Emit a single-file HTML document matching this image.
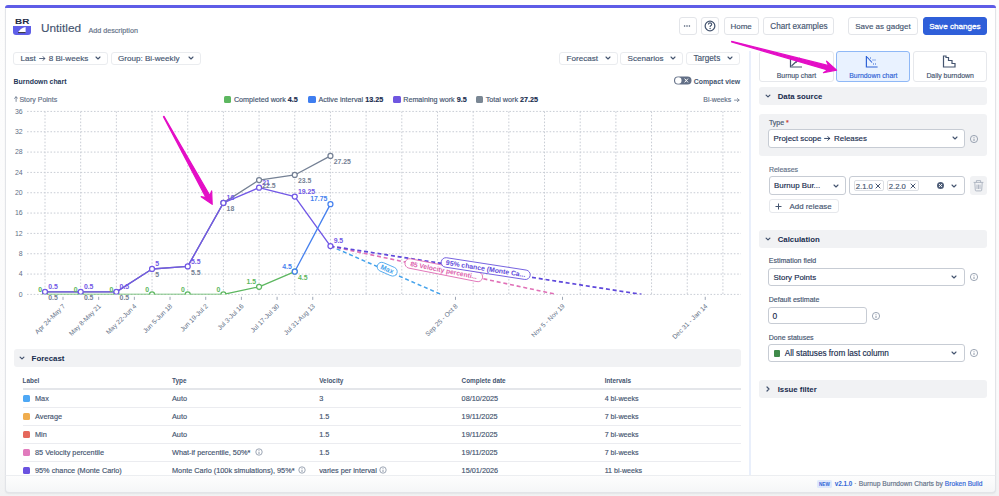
<!DOCTYPE html><html><head><meta charset="utf-8"><title>Burndown</title><style>
*{box-sizing:border-box;margin:0;padding:0}
html,body{width:999px;height:496px;overflow:hidden;background:linear-gradient(#fdfdfd 0%,#fafafb 85%,#f1f2f3 100%);font-family:"Liberation Sans",sans-serif}
.t{position:absolute;white-space:nowrap;font-family:"Liberation Sans",sans-serif}
.t.r{-webkit-text-stroke:0.15px currentColor}
.b{position:absolute}
.i{position:absolute;overflow:visible}
.btn{position:absolute;border:1px solid #eaecef;border-radius:3px;background:#fff}
</style></head><body>
<div class="b" style="left:5.00px;top:5.00px;width:991.00px;height:488.00px;background:#fff;border:1px solid #e2e4e8;border-top:none;border-radius:5px 5px 4px 4px;box-shadow:0 1px 2px rgba(0,0,0,0.06)"></div>
<div class="b" style="left:5.00px;top:5.00px;width:991.00px;height:3.00px;background:#5d5be6;border-radius:4px 4px 0 0"></div>
<div class="b" style="left:13.40px;top:17.50px;width:17.90px;height:17.50px;background:#fff;border-radius:3px"></div>
<div class="b" style="left:13.40px;top:25.50px;width:17.90px;height:9.30px;background:#5f5fe8;border-radius:0 0 3px 3px"></div>
<div class="t" style="left:14.60px;top:19.00px;font-size:6.4px;line-height:6.4px;color:#1d2a44;font-weight:900;transform:scaleX(1.55);transform-origin:0 0;letter-spacing:0.1px">BR</div>
<svg class="i" style="left:13px;top:25px" width="19" height="10" viewBox="13 25 19 10"><path d="M18 32.6 Q20 28.2 25.6 26.9 L25.6 32.6 Z" fill="#fff"/><path d="M18 32.6 H25.6" stroke="#222" stroke-width="0.9"/></svg>
<div class="t r" style="left:41.00px;top:23.00px;font-size:11.8px;line-height:11.8px;color:#44546f;font-weight:400;">Untitled</div>
<div class="t r" style="left:88.40px;top:27.00px;font-size:7.2px;line-height:7.2px;color:#626f86;font-weight:400;">Add description</div>
<div class="btn" style="left:679px;top:16.5px;width:17.700000000000045px;height:18.0px;background:#fff;border-color:#e3e5e9"></div>
<svg class="i" style="left:682.4px;top:21.3px" width="10" height="10" viewBox="0 0 10 10"><circle cx="2.6" cy="5" r="0.8" fill="#44546f"/><circle cx="5" cy="5" r="0.8" fill="#44546f"/><circle cx="7.4" cy="5" r="0.8" fill="#44546f"/></svg>
<div class="btn" style="left:701.2px;top:16.5px;width:17.399999999999977px;height:18.0px;background:#fff;border-color:#e3e5e9"></div>
<svg class="i" style="left:704.1px;top:19.7px" width="12" height="12" viewBox="-6 -6 12 12"><circle r="4.85" fill="none" stroke="#44546f" stroke-width="1.25"/><path d="M-1.6 -1.4 Q-1.6 -3.1 0 -3.1 Q1.7 -3.1 1.7 -1.6 Q1.7 -0.7 0.6 -0.2 Q0.1 0.1 0.1 1" fill="none" stroke="#44546f" stroke-width="1.15"/><circle cx="0.1" cy="2.5" r="0.7" fill="#44546f"/></svg>
<div class="btn" style="left:723.7px;top:16.5px;width:34.89999999999998px;height:18.0px;background:#fff;border-color:#e3e5e9"></div>
<div class="t r" style="left:741.15px;transform:translateX(-50%);top:23.00px;font-size:8.0px;line-height:8.0px;color:#44546f;font-weight:400;">Home</div>
<div class="btn" style="left:763.3px;top:16.5px;width:71.20000000000005px;height:18.0px;background:#fff;border-color:#e3e5e9"></div>
<div class="t r" style="left:798.90px;transform:translateX(-50%);top:23.00px;font-size:8.2px;line-height:8.2px;color:#44546f;font-weight:400;">Chart examples</div>
<div class="btn" style="left:848.3px;top:16.8px;width:69.30000000000007px;height:17.999999999999996px;background:#fff;border-color:#e3e5e9"></div>
<div class="t r" style="left:882.95px;transform:translateX(-50%);top:23.00px;font-size:8.0px;line-height:8.0px;color:#44546f;font-weight:400;">Save as gadget</div>
<div class="btn" style="left:922.7px;top:16.8px;width:64.29999999999995px;height:17.999999999999996px;background:#2f5fd9;border-color:#2f5fd9"></div>
<div class="t r" style="left:954.85px;transform:translateX(-50%);top:23.00px;font-size:8.1px;line-height:8.1px;color:#fff;font-weight:400;-webkit-text-stroke:0.3px #fff">Save changes</div>
<div class="btn" style="left:13.2px;top:51.5px;width:95.1px;height:13.099999999999994px"></div>
<div class="t r" style="left:20.40px;top:55.00px;font-size:8.1px;line-height:8.1px;color:#44546f;font-weight:400;">Last <svg style="display:inline-block;vertical-align:baseline;margin:0 0.1em" width="0.85em" height="0.62em" viewBox="0 0 10 7.4"><path d="M0.8 3.7 H8.6 M5.6 0.9 L8.8 3.7 L5.6 6.5" fill="none" stroke="currentColor" stroke-width="1.3" stroke-linecap="round" stroke-linejoin="round"/></svg> 8 Bi-weeks</div>
<svg class="i" style="left:93.8px;top:54.3px" width="8" height="8" viewBox="-4 -4 8 8"><path d="M-2.0 -1.0 L0 1.0 L2.0 -1.0" fill="none" stroke="#44546f" stroke-width="1.1" stroke-linecap="round" stroke-linejoin="round"/></svg>
<div class="btn" style="left:110.7px;top:51.5px;width:90.8px;height:13.099999999999994px"></div>
<div class="t r" style="left:117.90px;top:55.00px;font-size:8.1px;line-height:8.1px;color:#44546f;font-weight:400;">Group: Bi-weekly</div>
<svg class="i" style="left:187.0px;top:54.3px" width="8" height="8" viewBox="-4 -4 8 8"><path d="M-2.0 -1.0 L0 1.0 L2.0 -1.0" fill="none" stroke="#44546f" stroke-width="1.1" stroke-linecap="round" stroke-linejoin="round"/></svg>
<div class="btn" style="left:559.4px;top:51.5px;width:59.0px;height:13.099999999999994px"></div>
<div class="t r" style="left:566.60px;top:55.00px;font-size:8.1px;line-height:8.1px;color:#44546f;font-weight:400;">Forecast</div>
<svg class="i" style="left:603.9px;top:54.3px" width="8" height="8" viewBox="-4 -4 8 8"><path d="M-2.0 -1.0 L0 1.0 L2.0 -1.0" fill="none" stroke="#44546f" stroke-width="1.1" stroke-linecap="round" stroke-linejoin="round"/></svg>
<div class="btn" style="left:620.4px;top:51.5px;width:63.0px;height:13.099999999999994px"></div>
<div class="t r" style="left:627.60px;top:55.00px;font-size:8.1px;line-height:8.1px;color:#44546f;font-weight:400;">Scenarios</div>
<svg class="i" style="left:668.9px;top:54.3px" width="8" height="8" viewBox="-4 -4 8 8"><path d="M-2.0 -1.0 L0 1.0 L2.0 -1.0" fill="none" stroke="#44546f" stroke-width="1.1" stroke-linecap="round" stroke-linejoin="round"/></svg>
<div class="btn" style="left:686.2px;top:51.5px;width:54.19999999999993px;height:13.099999999999994px"></div>
<div class="t r" style="left:693.40px;top:55.00px;font-size:8.2px;line-height:8.2px;color:#44546f;font-weight:400;">Targets</div>
<svg class="i" style="left:725.9px;top:54.3px" width="8" height="8" viewBox="-4 -4 8 8"><path d="M-2.0 -1.0 L0 1.0 L2.0 -1.0" fill="none" stroke="#44546f" stroke-width="1.1" stroke-linecap="round" stroke-linejoin="round"/></svg>
<div class="t" style="left:13.60px;top:79.00px;font-size:6.9px;line-height:6.9px;color:#253858;font-weight:700;">Burndown chart</div>
<svg class="i" style="left:673px;top:75px" width="20" height="11" viewBox="673 75 20 11"><rect x="674" y="76.5" width="17.5" height="8" rx="4" fill="#626f86"/><circle cx="678.3" cy="80.5" r="3.2" fill="#fff"/><path d="M684.6 78.6 L688 82.4 M688 78.6 L684.6 82.4" stroke="#fff" stroke-width="1"/></svg>
<div class="t" style="left:693.80px;top:79.00px;font-size:6.9px;line-height:6.9px;color:#44546f;font-weight:700;">Compact view</div>
<div class="t r" style="left:13.50px;top:96.00px;font-size:7px;line-height:7px;color:#626f86;font-weight:400;"><svg style="display:inline-block;margin-right:0.25em" width="0.6em" height="0.8em" viewBox="0 0 6 8"><path d="M3 7.8 V1.2 M0.7 3.4 L3 1.1 L5.3 3.4" fill="none" stroke="currentColor" stroke-width="1.15" stroke-linecap="round" stroke-linejoin="round"/></svg>Story Points</div>
<div class="b" style="left:223.90px;top:95.50px;width:7.60px;height:7.60px;background:#5db760;border-radius:1.5px"></div>
<div class="t r" style="left:233.90px;top:96.00px;font-size:7.2px;line-height:7.2px;color:#44546f;font-weight:400;">Completed work <b style="color:#172b4d">4.5</b></div>
<div class="b" style="left:308.40px;top:95.50px;width:7.60px;height:7.60px;background:#3f7ef0;border-radius:1.5px"></div>
<div class="t r" style="left:318.40px;top:96.00px;font-size:7.2px;line-height:7.2px;color:#44546f;font-weight:400;">Active interval <b style="color:#172b4d">13.25</b></div>
<div class="b" style="left:393.20px;top:95.50px;width:7.60px;height:7.60px;background:#6f56e0;border-radius:1.5px"></div>
<div class="t r" style="left:403.20px;top:96.00px;font-size:7.2px;line-height:7.2px;color:#44546f;font-weight:400;">Remaining work <b style="color:#172b4d">9.5</b></div>
<div class="b" style="left:475.70px;top:95.50px;width:7.60px;height:7.60px;background:#7a8794;border-radius:1.5px"></div>
<div class="t r" style="left:485.70px;top:96.00px;font-size:7.2px;line-height:7.2px;color:#44546f;font-weight:400;">Total work <b style="color:#172b4d">27.25</b></div>
<div class="t r" style="right:258.60px;top:97.00px;font-size:6.9px;line-height:6.9px;color:#626f86;font-weight:400;">Bi-weeks <svg style="display:inline-block;vertical-align:baseline;margin:0 0.1em" width="0.85em" height="0.62em" viewBox="0 0 10 7.4"><path d="M0.8 3.7 H8.6 M5.6 0.9 L8.8 3.7 L5.6 6.5" fill="none" stroke="currentColor" stroke-width="1.3" stroke-linecap="round" stroke-linejoin="round"/></svg></div>
<div class="b" style="left:749.30px;top:51.20px;width:1.50px;height:423.80px;background:#e9effb"></div>
<svg class="i" style="left:0;top:0" width="999" height="496" viewBox="0 0 999 496">
<defs><clipPath id="pc"><rect x="20" y="100" width="725" height="194.6"/></clipPath></defs>
<text x="22.6" y="113.81" font-size="6.9" fill="#626f86" text-anchor="end" font-family="Liberation Sans">36</text>
<line x1="27" y1="111.41" x2="741" y2="111.41" stroke="#c9cdd5" stroke-width="1" stroke-dasharray="1.6 1.75"/>
<text x="22.6" y="134.14" font-size="6.9" fill="#626f86" text-anchor="end" font-family="Liberation Sans">32</text>
<line x1="27" y1="131.74" x2="741" y2="131.74" stroke="#c9cdd5" stroke-width="1" stroke-dasharray="1.6 1.75"/>
<text x="22.6" y="154.48" font-size="6.9" fill="#626f86" text-anchor="end" font-family="Liberation Sans">28</text>
<line x1="27" y1="152.08" x2="741" y2="152.08" stroke="#c9cdd5" stroke-width="1" stroke-dasharray="1.6 1.75"/>
<text x="22.6" y="174.81" font-size="6.9" fill="#626f86" text-anchor="end" font-family="Liberation Sans">24</text>
<line x1="27" y1="172.41" x2="741" y2="172.41" stroke="#c9cdd5" stroke-width="1" stroke-dasharray="1.6 1.75"/>
<text x="22.6" y="195.14" font-size="6.9" fill="#626f86" text-anchor="end" font-family="Liberation Sans">20</text>
<line x1="27" y1="192.74" x2="741" y2="192.74" stroke="#c9cdd5" stroke-width="1" stroke-dasharray="1.6 1.75"/>
<text x="22.6" y="215.47" font-size="6.9" fill="#626f86" text-anchor="end" font-family="Liberation Sans">16</text>
<line x1="27" y1="213.07" x2="741" y2="213.07" stroke="#c9cdd5" stroke-width="1" stroke-dasharray="1.6 1.75"/>
<text x="22.6" y="235.80" font-size="6.9" fill="#626f86" text-anchor="end" font-family="Liberation Sans">12</text>
<line x1="27" y1="233.40" x2="741" y2="233.40" stroke="#c9cdd5" stroke-width="1" stroke-dasharray="1.6 1.75"/>
<text x="22.6" y="256.14" font-size="6.9" fill="#626f86" text-anchor="end" font-family="Liberation Sans">8</text>
<line x1="27" y1="253.74" x2="741" y2="253.74" stroke="#c9cdd5" stroke-width="1" stroke-dasharray="1.6 1.75"/>
<text x="22.6" y="276.47" font-size="6.9" fill="#626f86" text-anchor="end" font-family="Liberation Sans">4</text>
<line x1="27" y1="274.07" x2="741" y2="274.07" stroke="#c9cdd5" stroke-width="1" stroke-dasharray="1.6 1.75"/>
<text x="22.6" y="296.80" font-size="6.9" fill="#626f86" text-anchor="end" font-family="Liberation Sans">0</text>
<line x1="27" y1="294.40" x2="741" y2="294.40" stroke="#c9cdd5" stroke-width="1" stroke-dasharray="1.6 1.75"/>
<line x1="45.00" y1="111.5" x2="45.00" y2="294.4" stroke="#c9cdd5" stroke-width="1" stroke-dasharray="1.6 1.75"/>
<line x1="80.68" y1="111.5" x2="80.68" y2="294.4" stroke="#c9cdd5" stroke-width="1" stroke-dasharray="1.6 1.75"/>
<line x1="116.36" y1="111.5" x2="116.36" y2="294.4" stroke="#c9cdd5" stroke-width="1" stroke-dasharray="1.6 1.75"/>
<line x1="152.04" y1="111.5" x2="152.04" y2="294.4" stroke="#c9cdd5" stroke-width="1" stroke-dasharray="1.6 1.75"/>
<line x1="187.72" y1="111.5" x2="187.72" y2="294.4" stroke="#c9cdd5" stroke-width="1" stroke-dasharray="1.6 1.75"/>
<line x1="223.40" y1="111.5" x2="223.40" y2="294.4" stroke="#c9cdd5" stroke-width="1" stroke-dasharray="1.6 1.75"/>
<line x1="259.08" y1="111.5" x2="259.08" y2="294.4" stroke="#c9cdd5" stroke-width="1" stroke-dasharray="1.6 1.75"/>
<line x1="294.76" y1="111.5" x2="294.76" y2="294.4" stroke="#c9cdd5" stroke-width="1" stroke-dasharray="1.6 1.75"/>
<line x1="330.44" y1="111.5" x2="330.44" y2="294.4" stroke="#c9cdd5" stroke-width="1" stroke-dasharray="1.6 1.75"/>
<line x1="366.12" y1="111.5" x2="366.12" y2="294.4" stroke="#c9cdd5" stroke-width="1" stroke-dasharray="1.6 1.75"/>
<line x1="401.80" y1="111.5" x2="401.80" y2="294.4" stroke="#c9cdd5" stroke-width="1" stroke-dasharray="1.6 1.75"/>
<line x1="437.48" y1="111.5" x2="437.48" y2="294.4" stroke="#c9cdd5" stroke-width="1" stroke-dasharray="1.6 1.75"/>
<line x1="473.16" y1="111.5" x2="473.16" y2="294.4" stroke="#c9cdd5" stroke-width="1" stroke-dasharray="1.6 1.75"/>
<line x1="508.84" y1="111.5" x2="508.84" y2="294.4" stroke="#c9cdd5" stroke-width="1" stroke-dasharray="1.6 1.75"/>
<line x1="544.52" y1="111.5" x2="544.52" y2="294.4" stroke="#c9cdd5" stroke-width="1" stroke-dasharray="1.6 1.75"/>
<line x1="580.20" y1="111.5" x2="580.20" y2="294.4" stroke="#c9cdd5" stroke-width="1" stroke-dasharray="1.6 1.75"/>
<line x1="615.88" y1="111.5" x2="615.88" y2="294.4" stroke="#c9cdd5" stroke-width="1" stroke-dasharray="1.6 1.75"/>
<line x1="651.56" y1="111.5" x2="651.56" y2="294.4" stroke="#c9cdd5" stroke-width="1" stroke-dasharray="1.6 1.75"/>
<line x1="687.24" y1="111.5" x2="687.24" y2="294.4" stroke="#c9cdd5" stroke-width="1" stroke-dasharray="1.6 1.75"/>
<line x1="722.92" y1="111.5" x2="722.92" y2="294.4" stroke="#c9cdd5" stroke-width="1" stroke-dasharray="1.6 1.75"/>
<line x1="63.00" y1="296.8" x2="63.00" y2="299.9" stroke="#8590a2" stroke-width="0.8"/>
<text transform="translate(65.60,306.60) rotate(-45)" font-size="6.6" fill="#626f86" text-anchor="end" font-family="Liberation Sans">Apr 24-May 7</text>
<line x1="98.68" y1="296.8" x2="98.68" y2="299.9" stroke="#8590a2" stroke-width="0.8"/>
<text transform="translate(101.28,306.60) rotate(-45)" font-size="6.6" fill="#626f86" text-anchor="end" font-family="Liberation Sans">May 8-May 21</text>
<line x1="134.36" y1="296.8" x2="134.36" y2="299.9" stroke="#8590a2" stroke-width="0.8"/>
<text transform="translate(136.96,306.60) rotate(-45)" font-size="6.6" fill="#626f86" text-anchor="end" font-family="Liberation Sans">May 22-Jun 4</text>
<line x1="170.04" y1="296.8" x2="170.04" y2="299.9" stroke="#8590a2" stroke-width="0.8"/>
<text transform="translate(172.64,306.60) rotate(-45)" font-size="6.6" fill="#626f86" text-anchor="end" font-family="Liberation Sans">Jun 5-Jun 18</text>
<line x1="205.72" y1="296.8" x2="205.72" y2="299.9" stroke="#8590a2" stroke-width="0.8"/>
<text transform="translate(208.32,306.60) rotate(-45)" font-size="6.6" fill="#626f86" text-anchor="end" font-family="Liberation Sans">Jun 19-Jul 2</text>
<line x1="241.40" y1="296.8" x2="241.40" y2="299.9" stroke="#8590a2" stroke-width="0.8"/>
<text transform="translate(244.00,306.60) rotate(-45)" font-size="6.6" fill="#626f86" text-anchor="end" font-family="Liberation Sans">Jul 3-Jul 16</text>
<line x1="277.08" y1="296.8" x2="277.08" y2="299.9" stroke="#8590a2" stroke-width="0.8"/>
<text transform="translate(279.68,306.60) rotate(-45)" font-size="6.6" fill="#626f86" text-anchor="end" font-family="Liberation Sans">Jul 17-Jul 30</text>
<line x1="312.76" y1="296.8" x2="312.76" y2="299.9" stroke="#8590a2" stroke-width="0.8"/>
<text transform="translate(315.36,306.60) rotate(-45)" font-size="6.6" fill="#626f86" text-anchor="end" font-family="Liberation Sans">Jul 31-Aug 13</text>
<line x1="455.48" y1="296.8" x2="455.48" y2="299.9" stroke="#8590a2" stroke-width="0.8"/>
<text transform="translate(458.08,306.60) rotate(-45)" font-size="6.6" fill="#626f86" text-anchor="end" font-family="Liberation Sans">Sep 25 - Oct 8</text>
<line x1="562.52" y1="296.8" x2="562.52" y2="299.9" stroke="#8590a2" stroke-width="0.8"/>
<text transform="translate(565.12,306.60) rotate(-45)" font-size="6.6" fill="#626f86" text-anchor="end" font-family="Liberation Sans">Nov 5 - Nov 19</text>
<line x1="705.24" y1="296.8" x2="705.24" y2="299.9" stroke="#8590a2" stroke-width="0.8"/>
<text transform="translate(707.84,306.60) rotate(-45)" font-size="6.6" fill="#626f86" text-anchor="end" font-family="Liberation Sans">Dec 31 - Jan 14</text>
<g clip-path="url(#pc)">
<line x1="330.44" y1="246.11149999999998" x2="441" y2="294.4" stroke="#45a3ec" stroke-width="1.5" stroke-dasharray="4 2.8"/>
<line x1="330.44" y1="246.11149999999998" x2="556.4" y2="294.4" stroke="#e070b7" stroke-width="1.6" stroke-dasharray="4 2.8"/>
<line x1="330.44" y1="246.11149999999998" x2="641.5" y2="294.4" stroke="#5e48db" stroke-width="1.7" stroke-dasharray="4 2.8"/>
<polyline points="45.00,294.40 80.68,294.40 116.36,294.40 152.04,294.40 187.72,294.40 223.40,294.40 259.08,286.78 294.76,271.53" fill="none" stroke="#5db760" stroke-width="1.3" stroke-linejoin="round"/>
<polyline points="45.00,291.86 80.68,291.86 116.36,291.86 152.04,268.98 187.72,266.44 223.40,202.91 259.08,180.03 294.76,174.95 330.44,155.89" fill="none" stroke="#758195" stroke-width="1.3" stroke-linejoin="round"/>
<polyline points="45.00,291.86 80.68,291.86 116.36,291.86 152.04,268.98 187.72,266.44 223.40,202.91 259.08,187.66 294.76,196.55 330.44,246.11" fill="none" stroke="#7258e6" stroke-width="1.35" stroke-linejoin="round"/>
<line x1="294.76" y1="271.5265" x2="330.44" y2="204.17674999999997" stroke="#4580ee" stroke-width="1.3"/>
<circle cx="45.00" cy="294.40" r="2.5" fill="#fff" stroke="#5db760" stroke-width="1.25"/>
<circle cx="80.68" cy="294.40" r="2.5" fill="#fff" stroke="#5db760" stroke-width="1.25"/>
<circle cx="116.36" cy="294.40" r="2.5" fill="#fff" stroke="#5db760" stroke-width="1.25"/>
<circle cx="152.04" cy="294.40" r="2.5" fill="#fff" stroke="#5db760" stroke-width="1.25"/>
<circle cx="187.72" cy="294.40" r="2.5" fill="#fff" stroke="#5db760" stroke-width="1.25"/>
<circle cx="223.40" cy="294.40" r="2.5" fill="#fff" stroke="#5db760" stroke-width="1.25"/>
<circle cx="259.08" cy="286.78" r="2.5" fill="#fff" stroke="#5db760" stroke-width="1.25"/>
<circle cx="294.76" cy="271.53" r="2.5" fill="#fff" stroke="#5db760" stroke-width="1.25"/>
<circle cx="223.40" cy="202.91" r="2.5" fill="#fff" stroke="#758195" stroke-width="1.25"/>
<circle cx="259.08" cy="180.03" r="2.5" fill="#fff" stroke="#758195" stroke-width="1.25"/>
<circle cx="294.76" cy="174.95" r="2.5" fill="#fff" stroke="#758195" stroke-width="1.25"/>
<circle cx="330.44" cy="155.89" r="2.5" fill="#fff" stroke="#758195" stroke-width="1.25"/>
<circle cx="45.00" cy="291.86" r="2.5" fill="#fff" stroke="#7258e6" stroke-width="1.25"/>
<circle cx="80.68" cy="291.86" r="2.5" fill="#fff" stroke="#7258e6" stroke-width="1.25"/>
<circle cx="116.36" cy="291.86" r="2.5" fill="#fff" stroke="#7258e6" stroke-width="1.25"/>
<circle cx="152.04" cy="268.98" r="2.5" fill="#fff" stroke="#7258e6" stroke-width="1.25"/>
<circle cx="187.72" cy="266.44" r="2.5" fill="#fff" stroke="#7258e6" stroke-width="1.25"/>
<circle cx="223.40" cy="202.91" r="2.5" fill="#fff" stroke="#7258e6" stroke-width="1.25"/>
<circle cx="259.08" cy="187.66" r="2.5" fill="#fff" stroke="#7258e6" stroke-width="1.25"/>
<circle cx="294.76" cy="196.55" r="2.5" fill="#fff" stroke="#7258e6" stroke-width="1.25"/>
<circle cx="330.44" cy="246.11" r="2.5" fill="#fff" stroke="#7258e6" stroke-width="1.25"/>
<circle cx="294.76" cy="271.53" r="2.5" fill="#fff" stroke="#4580ee" stroke-width="1.25"/>
<circle cx="330.44" cy="204.18" r="2.5" fill="#fff" stroke="#4580ee" stroke-width="1.25"/>
</g>
<text x="48.20" y="289.06" font-size="6.9" fill="#7258e6" text-anchor="start" font-weight="700" font-family="Liberation Sans">0.5</text>
<text x="83.88" y="289.06" font-size="6.9" fill="#7258e6" text-anchor="start" font-weight="700" font-family="Liberation Sans">0.5</text>
<text x="119.56" y="289.06" font-size="6.9" fill="#7258e6" text-anchor="start" font-weight="700" font-family="Liberation Sans">0.5</text>
<text x="155.24" y="266.18" font-size="6.9" fill="#7258e6" text-anchor="start" font-weight="700" font-family="Liberation Sans">5</text>
<text x="190.92" y="263.64" font-size="6.9" fill="#7258e6" text-anchor="start" font-weight="700" font-family="Liberation Sans">5.5</text>
<text x="226.60" y="200.11" font-size="6.9" fill="#7258e6" text-anchor="start" font-weight="700" font-family="Liberation Sans">18</text>
<text x="262.28" y="184.86" font-size="6.9" fill="#7258e6" text-anchor="start" font-weight="700" font-family="Liberation Sans">21</text>
<text x="297.96" y="193.75" font-size="6.9" fill="#7258e6" text-anchor="start" font-weight="700" font-family="Liberation Sans">19.25</text>
<text x="333.64" y="243.31" font-size="6.9" fill="#7258e6" text-anchor="start" font-weight="700" font-family="Liberation Sans">9.5</text>
<text x="48.20" y="300.06" font-size="6.9" fill="#758195" text-anchor="start" font-weight="700" font-family="Liberation Sans">0.5</text>
<text x="83.88" y="300.06" font-size="6.9" fill="#758195" text-anchor="start" font-weight="700" font-family="Liberation Sans">0.5</text>
<text x="119.56" y="300.06" font-size="6.9" fill="#758195" text-anchor="start" font-weight="700" font-family="Liberation Sans">0.5</text>
<text x="155.24" y="277.18" font-size="6.9" fill="#758195" text-anchor="start" font-weight="700" font-family="Liberation Sans">5</text>
<text x="190.92" y="274.64" font-size="6.9" fill="#758195" text-anchor="start" font-weight="700" font-family="Liberation Sans">5.5</text>
<text x="226.60" y="211.11" font-size="6.9" fill="#758195" text-anchor="start" font-weight="700" font-family="Liberation Sans">18</text>
<text x="262.28" y="188.23" font-size="6.9" fill="#758195" text-anchor="start" font-weight="700" font-family="Liberation Sans">22.5</text>
<text x="297.96" y="183.15" font-size="6.9" fill="#758195" text-anchor="start" font-weight="700" font-family="Liberation Sans">23.5</text>
<text x="333.64" y="164.09" font-size="6.9" fill="#758195" text-anchor="start" font-weight="700" font-family="Liberation Sans">27.25</text>
<text x="42.00" y="291.60" font-size="6.9" fill="#5db760" text-anchor="end" font-weight="700" font-family="Liberation Sans">0</text>
<text x="77.68" y="291.60" font-size="6.9" fill="#5db760" text-anchor="end" font-weight="700" font-family="Liberation Sans">0</text>
<text x="113.36" y="291.60" font-size="6.9" fill="#5db760" text-anchor="end" font-weight="700" font-family="Liberation Sans">0</text>
<text x="149.04" y="291.60" font-size="6.9" fill="#5db760" text-anchor="end" font-weight="700" font-family="Liberation Sans">0</text>
<text x="184.72" y="291.60" font-size="6.9" fill="#5db760" text-anchor="end" font-weight="700" font-family="Liberation Sans">0</text>
<text x="220.40" y="291.60" font-size="6.9" fill="#5db760" text-anchor="end" font-weight="700" font-family="Liberation Sans">0</text>
<text x="256.08" y="283.98" font-size="6.9" fill="#5db760" text-anchor="end" font-weight="700" font-family="Liberation Sans">1.5</text>
<text x="297.96" y="279.73" font-size="6.9" fill="#5db760" text-anchor="start" font-weight="700" font-family="Liberation Sans">4.5</text>
<text x="291.76" y="268.73" font-size="6.9" fill="#4580ee" text-anchor="end" font-weight="700" font-family="Liberation Sans">4.5</text>
<text x="327.44" y="201.38" font-size="6.9" fill="#4580ee" text-anchor="end" font-weight="700" font-family="Liberation Sans">17.75</text>
<g transform="translate(387.20,269.20) rotate(23.40)"><rect x="-10.5" y="-4.5" width="21" height="9" rx="4.5" fill="#fff" stroke="#45a3ec" stroke-width="0.8"/><text y="2.4" font-size="6.9" fill="#45a3ec" text-anchor="middle" font-weight="700" font-family="Liberation Sans" style="">Max</text></g>
<g transform="translate(443.80,270.20) rotate(11.20)"><rect x="-39.5" y="-4.75" width="79" height="9.5" rx="4.75" fill="#fff" stroke="#dc62ad" stroke-width="0.8"/><text y="2.4" font-size="6.7" fill="#dc62ad" text-anchor="middle" font-weight="700" font-family="Liberation Sans" style="">85 Velocity percenti...</text></g>
<g transform="translate(485.70,268.60) rotate(8.80)"><rect x="-45.0" y="-4.75" width="90" height="9.5" rx="4.75" fill="#fff" stroke="#5e48db" stroke-width="0.8"/><text y="2.4" font-size="6.9" fill="#5e48db" text-anchor="middle" font-weight="700" font-family="Liberation Sans" style="">95% chance (Monte Ca...</text></g>
</svg>
<div class="btn" style="left:759.2px;top:51.3px;width:74.5px;height:30.9px;background:#fff;border-color:#e6e8ec;border-radius:3px"></div>
<div class="t r" style="left:796.45px;transform:translateX(-50%);top:73.00px;font-size:6.9px;line-height:6.9px;color:#44546f;font-weight:400;">Burnup chart</div>
<div class="btn" style="left:836.3px;top:51.3px;width:74.10000000000002px;height:30.9px;background:#e9f2ff;border-color:#8fb8f6;border-radius:3px"></div>
<div class="t r" style="left:873.35px;transform:translateX(-50%);top:73.00px;font-size:6.9px;line-height:6.9px;color:#2f63d6;font-weight:400;">Burndown chart</div>
<div class="btn" style="left:912.9px;top:51.3px;width:74.5px;height:30.9px;background:#fff;border-color:#e6e8ec;border-radius:3px"></div>
<div class="t r" style="left:950.15px;transform:translateX(-50%);top:73.00px;font-size:6.9px;line-height:6.9px;color:#44546f;font-weight:400;">Daily burndown</div>
<svg class="i" style="left:0;top:0" width="999" height="100" viewBox="0 0 999 100"><path d="M790.5 56 V67 H802" fill="none" stroke="#44546f" stroke-width="1.2"/><path d="M791.5 66 L800 58" fill="none" stroke="#44546f" stroke-width="1.1"/><path d="M796 63 L799 60 L801.5 61" fill="none" stroke="#44546f" stroke-width="0.9" stroke-dasharray="1 1"/><path d="M866.4 56 V67 H877.6" fill="none" stroke="#2f63d6" stroke-width="1.2"/><path d="M867 57 L872 62.5" fill="none" stroke="#2f63d6" stroke-width="1.1"/><path d="M870 58 H872 M872.5 60 H875.5 M873 64 H876" fill="none" stroke="#2f63d6" stroke-width="1.0" stroke-dasharray="1 1"/><path d="M943.5 56 V67 H955 V63.5 H952 V60.5 H948.5 V57.5 H946 V56 Z" fill="none" stroke="#44546f" stroke-width="1.2" stroke-linejoin="miter"/></svg>
<div class="b" style="left:759.4px;top:86.9px;width:227.9px;height:17.89999999999999px;background:#f1f2f4;border-radius:3px"></div>
<svg class="i" style="left:764.4px;top:91.64999999999999px" width="8" height="8" viewBox="-4 -4 8 8"><path d="M-1.9 -0.95 L0 0.95 L1.9 -0.95" fill="none" stroke="#44546f" stroke-width="1.2" stroke-linecap="round" stroke-linejoin="round"/></svg>
<div class="t" style="left:777.70px;top:93.00px;font-size:7.8px;line-height:7.8px;color:#172b4d;font-weight:700;">Data source</div>
<div class="b" style="left:759.4px;top:113.8px;width:227.9px;height:42.3px;background:#f1f2f4;border-radius:3px"></div>
<div class="t r" style="left:768.90px;top:119.00px;font-size:7px;line-height:7px;color:#44546f;font-weight:400;">Type <span style="color:#c9372c">*</span></div>
<div class="btn" style="left:768.4px;top:129.2px;width:196.39999999999998px;height:18.400000000000006px;border:1px solid #c7ccd4;border-radius:3px;background:#fff"></div>
<div class="t r" style="left:773.60px;top:135.00px;font-size:7.9px;line-height:7.9px;color:#172b4d;font-weight:400;">Project scope <svg style="display:inline-block;vertical-align:baseline;margin:0 0.1em" width="0.85em" height="0.62em" viewBox="0 0 10 7.4"><path d="M0.8 3.7 H8.6 M5.6 0.9 L8.8 3.7 L5.6 6.5" fill="none" stroke="currentColor" stroke-width="1.3" stroke-linecap="round" stroke-linejoin="round"/></svg> Releases</div>
<svg class="i" style="left:950.5px;top:134.39999999999998px" width="8" height="8" viewBox="-4 -4 8 8"><path d="M-2.0 -1.0 L0 1.0 L2.0 -1.0" fill="none" stroke="#44546f" stroke-width="1.1" stroke-linecap="round" stroke-linejoin="round"/></svg>
<svg class="i" style="left:969.3px;top:133.5px" width="10" height="10" viewBox="-5 -5 10 10"><circle r="3.6" fill="none" stroke="#8590a2" stroke-width="0.8"/><path d="M0 -0.3 V2" stroke="#8590a2" stroke-width="0.9"/><circle cy="-1.7" r="0.5" fill="#8590a2"/></svg>
<div class="t r" style="left:768.90px;top:166.00px;font-size:7px;line-height:7px;color:#626f86;font-weight:400;">Releases</div>
<div class="btn" style="left:768.9px;top:176.4px;width:77.10000000000002px;height:18.299999999999983px;border:1px solid #c7ccd4;border-radius:3px;background:#fff"></div>
<div class="t r" style="left:774.10px;top:182.00px;font-size:7.9px;line-height:7.9px;color:#172b4d;font-weight:400;">Burnup Bur...</div>
<svg class="i" style="left:831.7px;top:181.55px" width="8" height="8" viewBox="-4 -4 8 8"><path d="M-2.0 -1.0 L0 1.0 L2.0 -1.0" fill="none" stroke="#44546f" stroke-width="1.1" stroke-linecap="round" stroke-linejoin="round"/></svg>
<div class="btn" style="left:848.6px;top:176.4px;width:116.19999999999993px;height:18.299999999999983px;border:1px solid #c7ccd4;border-radius:3px;background:#fff"></div>
<svg class="i" style="left:950.3px;top:181.55px" width="8" height="8" viewBox="-4 -4 8 8"><path d="M-2.0 -1.0 L0 1.0 L2.0 -1.0" fill="none" stroke="#44546f" stroke-width="1.1" stroke-linecap="round" stroke-linejoin="round"/></svg>
<div class="btn" style="left:853.5px;top:180px;width:30.5px;height:11.3px;border:1px solid #dcdfe4;border-radius:2px;background:#fff"></div>
<div class="t r" style="left:855.80px;top:183.00px;font-size:7.7px;line-height:7.7px;color:#44546f;font-weight:400;">2.1.0</div>
<svg class="i" style="left:875.4px;top:182.6px" width="6" height="6" viewBox="-3 -3 6 6"><path d="M-2.3 -2.3 L2.3 2.3 M2.3 -2.3 L-2.3 2.3" stroke="#44546f" stroke-width="1"/></svg>
<div class="btn" style="left:886.5px;top:180px;width:32.299999999999955px;height:11.3px;border:1px solid #dcdfe4;border-radius:2px;background:#fff"></div>
<div class="t r" style="left:888.80px;top:183.00px;font-size:7.7px;line-height:7.7px;color:#44546f;font-weight:400;">2.2.0</div>
<svg class="i" style="left:910.1999999999999px;top:182.6px" width="6" height="6" viewBox="-3 -3 6 6"><path d="M-2.3 -2.3 L2.3 2.3 M2.3 -2.3 L-2.3 2.3" stroke="#44546f" stroke-width="1"/></svg>
<svg class="i" style="left:935.8px;top:181.2px" width="9" height="9" viewBox="-4.5 -4.5 9 9"><circle r="3.5" fill="#505f79"/><path d="M-1.4 -1.4 L1.4 1.4 M1.4 -1.4 L-1.4 1.4" stroke="#fff" stroke-width="1"/></svg>
<div class="b" style="left:969.7px;top:176.4px;width:17.6px;height:18.3px;background:#f1f2f4;border-radius:3px"></div>
<svg class="i" style="left:972px;top:179px" width="13" height="13" viewBox="972 179 13 13"><path d="M973.6 182.4 H983.4 M976.4 182.4 V180.6 H980.6 V182.4 M974.8 182.6 L975.3 190.2 Q975.4 190.9 976.1 190.9 H980.9 Q981.6 190.9 981.7 190.2 L982.2 182.6 M977 184.6 V189 M978.5 184.6 V189 M980 184.6 V189" fill="none" stroke="#a5adba" stroke-width="0.85" stroke-linejoin="round"/></svg>
<div class="btn" style="left:768.9px;top:199.1px;width:70.5px;height:13.5px;border:1px solid #e6e8ec;border-radius:3px"></div>
<svg class="i" style="left:774px;top:201.5px" width="9" height="9" viewBox="-4.5 -4.5 9 9"><path d="M0 -3 V3 M-3 0 H3" stroke="#44546f" stroke-width="1"/></svg>
<div class="t r" style="left:789.50px;top:203.00px;font-size:7.9px;line-height:7.9px;color:#44546f;font-weight:400;">Add release</div>
<div class="b" style="left:759.4px;top:230.4px;width:227.9px;height:17.599999999999994px;background:#f1f2f4;border-radius:3px"></div>
<svg class="i" style="left:764.4px;top:235.0px" width="8" height="8" viewBox="-4 -4 8 8"><path d="M-1.9 -0.95 L0 0.95 L1.9 -0.95" fill="none" stroke="#44546f" stroke-width="1.2" stroke-linecap="round" stroke-linejoin="round"/></svg>
<div class="t" style="left:777.70px;top:236.00px;font-size:7.8px;line-height:7.8px;color:#172b4d;font-weight:700;">Calculation</div>
<div class="t r" style="left:768.80px;top:257.00px;font-size:7px;line-height:7px;color:#44546f;font-weight:400;">Estimation field</div>
<div class="btn" style="left:768.4px;top:268.4px;width:196.30000000000007px;height:17.900000000000034px;border:1px solid #c7ccd4;border-radius:3px;background:#fff"></div>
<div class="t r" style="left:773.60px;top:274.00px;font-size:7.9px;line-height:7.9px;color:#172b4d;font-weight:400;">Story Points</div>
<svg class="i" style="left:950.4000000000001px;top:273.35px" width="8" height="8" viewBox="-4 -4 8 8"><path d="M-2.0 -1.0 L0 1.0 L2.0 -1.0" fill="none" stroke="#44546f" stroke-width="1.1" stroke-linecap="round" stroke-linejoin="round"/></svg>
<svg class="i" style="left:969.4px;top:272.2px" width="10" height="10" viewBox="-5 -5 10 10"><circle r="3.6" fill="none" stroke="#8590a2" stroke-width="0.8"/><path d="M0 -0.3 V2" stroke="#8590a2" stroke-width="0.9"/><circle cy="-1.7" r="0.5" fill="#8590a2"/></svg>
<div class="t r" style="left:768.80px;top:296.00px;font-size:7px;line-height:7px;color:#44546f;font-weight:400;">Default estimate</div>
<div class="btn" style="left:768.4px;top:306.9px;width:98.20000000000005px;height:16.900000000000034px;border:1px solid #c7ccd4;border-radius:3px;background:#fff"></div>
<div class="t r" style="left:772.60px;top:312.00px;font-size:8.4px;line-height:8.4px;color:#172b4d;font-weight:400;">0</div>
<svg class="i" style="left:871.3px;top:310.6px" width="10" height="10" viewBox="-5 -5 10 10"><circle r="3.6" fill="none" stroke="#8590a2" stroke-width="0.8"/><path d="M0 -0.3 V2" stroke="#8590a2" stroke-width="0.9"/><circle cy="-1.7" r="0.5" fill="#8590a2"/></svg>
<div class="t r" style="left:768.80px;top:334.00px;font-size:7px;line-height:7px;color:#44546f;font-weight:400;">Done statuses</div>
<div class="btn" style="left:768.4px;top:344.4px;width:196.30000000000007px;height:18.100000000000023px;border:1px solid #c7ccd4;border-radius:3px;background:#fff"></div>
<svg class="i" style="left:950.4000000000001px;top:349.45px" width="8" height="8" viewBox="-4 -4 8 8"><path d="M-2.0 -1.0 L0 1.0 L2.0 -1.0" fill="none" stroke="#44546f" stroke-width="1.1" stroke-linecap="round" stroke-linejoin="round"/></svg>
<div class="b" style="left:773.8px;top:350.4px;width:6.2px;height:6.2px;background:#3f8a4a;border-radius:1px"></div>
<div class="t r" style="left:784.70px;top:350.00px;font-size:8.2px;line-height:8.2px;color:#172b4d;font-weight:400;">All statuses from last column</div>
<svg class="i" style="left:969.4px;top:348.4px" width="10" height="10" viewBox="-5 -5 10 10"><circle r="3.6" fill="none" stroke="#8590a2" stroke-width="0.8"/><path d="M0 -0.3 V2" stroke="#8590a2" stroke-width="0.9"/><circle cy="-1.7" r="0.5" fill="#8590a2"/></svg>
<div class="b" style="left:759.4px;top:380.3px;width:227.9px;height:17.80000000000001px;background:#f1f2f4;border-radius:3px"></div>
<svg class="i" style="left:764px;top:385.20000000000005px" width="8" height="8" viewBox="-4 -4 8 8"><path d="M-1 -2 L1 0 L-1 2" fill="none" stroke="#44546f" stroke-width="1.2" stroke-linecap="round" stroke-linejoin="round"/></svg>
<div class="t" style="left:777.70px;top:386.00px;font-size:7.8px;line-height:7.8px;color:#172b4d;font-weight:700;">Issue filter</div>
<div class="b" style="left:13.6px;top:349.4px;width:727px;height:17.6px;background:#f1f2f4;border-radius:3px"></div>
<svg class="i" style="left:18.3px;top:354px" width="8" height="8" viewBox="-4 -4 8 8"><path d="M-1.9 -0.95 L0 0.95 L1.9 -0.95" fill="none" stroke="#44546f" stroke-width="1.2" stroke-linecap="round" stroke-linejoin="round"/></svg>
<div class="t" style="left:31.60px;top:355.00px;font-size:7.9px;line-height:7.9px;color:#172b4d;font-weight:700;">Forecast</div>
<div class="t" style="left:22.60px;top:378.00px;font-size:6.4px;line-height:6.4px;color:#44546f;font-weight:700;">Label</div>
<div class="t" style="left:172.00px;top:378.00px;font-size:6.4px;line-height:6.4px;color:#44546f;font-weight:700;">Type</div>
<div class="t" style="left:319.20px;top:378.00px;font-size:6.4px;line-height:6.4px;color:#44546f;font-weight:700;">Velocity</div>
<div class="t" style="left:461.60px;top:378.00px;font-size:6.4px;line-height:6.4px;color:#44546f;font-weight:700;">Complete date</div>
<div class="t" style="left:604.70px;top:378.00px;font-size:6.4px;line-height:6.4px;color:#44546f;font-weight:700;">Intervals</div>
<div class="b" style="left:22.6px;top:388px;width:718px;height:2px;background:#e4e6ea"></div>
<div class="b" style="left:22.6px;top:394.80px;width:7.4px;height:7.4px;background:#4ea8f5;border-radius:1.5px"></div>
<div class="t r" style="left:35.00px;top:395.00px;font-size:7.3px;line-height:7.3px;color:#44546f;font-weight:400;">Max</div>
<div class="t r" style="left:172.00px;top:395.00px;font-size:7.3px;line-height:7.3px;color:#44546f;font-weight:400;">Auto</div>
<div class="t r" style="left:319.20px;top:395.00px;font-size:7.3px;line-height:7.3px;color:#44546f;font-weight:400;">3</div>
<div class="t r" style="left:461.60px;top:395.00px;font-size:7.3px;line-height:7.3px;color:#44546f;font-weight:400;">08/10/2025</div>
<div class="t r" style="left:604.70px;top:396.00px;font-size:7.1px;line-height:7.1px;color:#44546f;font-weight:400;">4 bi-weeks</div>
<div class="b" style="left:22.6px;top:407.10px;width:718px;height:1px;background:#ebecf0"></div>
<div class="b" style="left:22.6px;top:412.73px;width:7.4px;height:7.4px;background:#f0ad4e;border-radius:1.5px"></div>
<div class="t r" style="left:35.00px;top:413.00px;font-size:7.3px;line-height:7.3px;color:#44546f;font-weight:400;">Average</div>
<div class="t r" style="left:172.00px;top:413.00px;font-size:7.3px;line-height:7.3px;color:#44546f;font-weight:400;">Auto</div>
<div class="t r" style="left:319.20px;top:413.00px;font-size:7.3px;line-height:7.3px;color:#44546f;font-weight:400;">1.5</div>
<div class="t r" style="left:461.60px;top:413.00px;font-size:7.3px;line-height:7.3px;color:#44546f;font-weight:400;">19/11/2025</div>
<div class="t r" style="left:604.70px;top:414.00px;font-size:7.1px;line-height:7.1px;color:#44546f;font-weight:400;">7 bi-weeks</div>
<div class="b" style="left:22.6px;top:425.03px;width:718px;height:1px;background:#ebecf0"></div>
<div class="b" style="left:22.6px;top:430.66px;width:7.4px;height:7.4px;background:#e5685c;border-radius:1.5px"></div>
<div class="t r" style="left:35.00px;top:431.00px;font-size:7.3px;line-height:7.3px;color:#44546f;font-weight:400;">Min</div>
<div class="t r" style="left:172.00px;top:431.00px;font-size:7.3px;line-height:7.3px;color:#44546f;font-weight:400;">Auto</div>
<div class="t r" style="left:319.20px;top:431.00px;font-size:7.3px;line-height:7.3px;color:#44546f;font-weight:400;">1.5</div>
<div class="t r" style="left:461.60px;top:431.00px;font-size:7.3px;line-height:7.3px;color:#44546f;font-weight:400;">19/11/2025</div>
<div class="t r" style="left:604.70px;top:432.00px;font-size:7.1px;line-height:7.1px;color:#44546f;font-weight:400;">7 bi-weeks</div>
<div class="b" style="left:22.6px;top:442.96px;width:718px;height:1px;background:#ebecf0"></div>
<div class="b" style="left:22.6px;top:448.59px;width:7.4px;height:7.4px;background:#e17bbd;border-radius:1.5px"></div>
<div class="t r" style="left:35.00px;top:449.00px;font-size:7.3px;line-height:7.3px;color:#44546f;font-weight:400;">85 Velocity percentile</div>
<div class="t r" style="left:172.00px;top:449.00px;font-size:7.3px;line-height:7.3px;color:#44546f;font-weight:400;">What-if percentile, 50%*</div>
<div class="t r" style="left:319.20px;top:449.00px;font-size:7.3px;line-height:7.3px;color:#44546f;font-weight:400;">1.5</div>
<div class="t r" style="left:461.60px;top:449.00px;font-size:7.3px;line-height:7.3px;color:#44546f;font-weight:400;">19/11/2025</div>
<div class="t r" style="left:604.70px;top:450.00px;font-size:7.1px;line-height:7.1px;color:#44546f;font-weight:400;">7 bi-weeks</div>
<div class="b" style="left:22.6px;top:460.89px;width:718px;height:1px;background:#ebecf0"></div>
<div class="b" style="left:22.6px;top:466.52px;width:7.4px;height:7.4px;background:#6a52e0;border-radius:1.5px"></div>
<div class="t r" style="left:35.00px;top:467.00px;font-size:7.3px;line-height:7.3px;color:#44546f;font-weight:400;">95% chance (Monte Carlo)</div>
<div class="t r" style="left:172.00px;top:467.00px;font-size:7.3px;line-height:7.3px;color:#44546f;font-weight:400;">Monte Carlo (100k simulations), 95%*</div>
<div class="t r" style="left:319.20px;top:467.00px;font-size:7.3px;line-height:7.3px;color:#44546f;font-weight:400;">varies per interval</div>
<div class="t r" style="left:461.60px;top:467.00px;font-size:7.3px;line-height:7.3px;color:#44546f;font-weight:400;">15/01/2026</div>
<div class="t r" style="left:604.70px;top:468.00px;font-size:7.1px;line-height:7.1px;color:#44546f;font-weight:400;">11 bi-weeks</div>
<svg class="i" style="left:254.3px;top:447.3px" width="10" height="10" viewBox="-5 -5 10 10"><circle r="3.2" fill="none" stroke="#8590a2" stroke-width="0.8"/><path d="M0 -0.3 V2" stroke="#8590a2" stroke-width="0.9"/><circle cy="-1.7" r="0.5" fill="#8590a2"/></svg>
<svg class="i" style="left:296.5px;top:465.2px" width="10" height="10" viewBox="-5 -5 10 10"><circle r="3.2" fill="none" stroke="#8590a2" stroke-width="0.8"/><path d="M0 -0.3 V2" stroke="#8590a2" stroke-width="0.9"/><circle cy="-1.7" r="0.5" fill="#8590a2"/></svg>
<svg class="i" style="left:378px;top:465.2px" width="10" height="10" viewBox="-5 -5 10 10"><circle r="3.2" fill="none" stroke="#8590a2" stroke-width="0.8"/><path d="M0 -0.3 V2" stroke="#8590a2" stroke-width="0.9"/><circle cy="-1.7" r="0.5" fill="#8590a2"/></svg>
<div class="b" style="left:5px;top:475px;width:991px;height:18px;background:linear-gradient(#fdfdfd,#f5f6f7);border-top:1px solid #eceef1;border-bottom:1px solid #e2e4e8;border-left:1px solid #e2e4e8;border-right:1px solid #e2e4e8;border-radius:0 0 4px 4px"></div>
<div class="b" style="left:817.3px;top:480px;width:14.4px;height:8.2px;background:#dfe9fc;border-radius:1.5px"></div>
<div class="t" style="left:824.40px;transform:translateX(-50%);top:483.00px;font-size:4.6px;line-height:4.6px;color:#2f63d6;font-weight:700;">NEW</div>
<div class="t" style="left:834.70px;top:481.00px;font-size:6.3px;line-height:6.3px;color:#2f63d6;font-weight:700;">v2.1.0</div>
<div class="t r" style="left:855.40px;transform:translateX(-50%);top:481.00px;font-size:6.7px;line-height:6.7px;color:#8590a2;font-weight:400;">·</div>
<div class="t r" style="left:858.80px;top:481.00px;font-size:6.7px;line-height:6.7px;color:#626f86;font-weight:400;">Burnup Burndown Charts by</div>
<div class="t r" style="left:944.80px;top:481.00px;font-size:6.65px;line-height:6.65px;color:#2f63d6;font-weight:400;">Broken Build</div>
<svg class="i" style="left:0;top:0" width="999" height="496" viewBox="0 0 999 496"><polygon points="212.20,204.30 211.65,190.89 209.87,195.53 163.96,116.35 163.44,116.65 206.02,197.66 201.15,196.70" fill="#e40ec6" stroke="#e40ec6" stroke-width="1.2" stroke-linejoin="round"/><polygon points="836.60,70.10 826.59,61.17 828.68,65.67 731.68,41.31 731.52,41.89 827.53,69.92 823.45,72.75" fill="#e40ec6" stroke="#e40ec6" stroke-width="1.2" stroke-linejoin="round"/></svg>
</body></html>
